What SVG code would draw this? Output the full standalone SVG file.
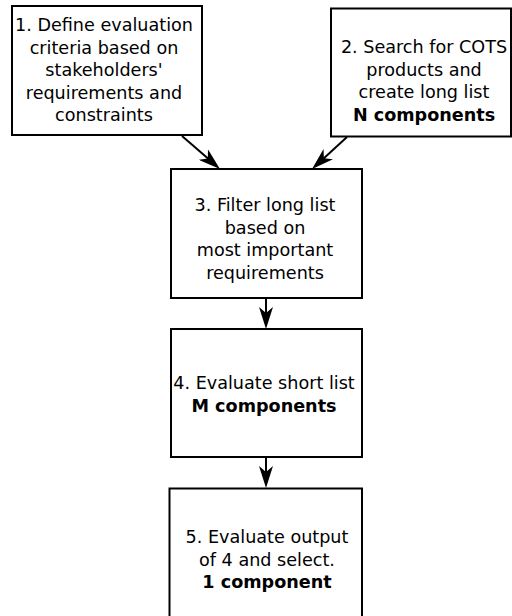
<svg xmlns="http://www.w3.org/2000/svg" width="512" height="616" viewBox="0 0 512 616">
<style>
.box{fill:#fff;stroke:#000;stroke-width:2}
.t{font-family:"DejaVu Sans",sans-serif;font-size:17.6px;fill:#000;text-anchor:middle}
.b{font-weight:bold}
.c{stroke:#000;stroke-width:2;fill:none}
</style>
<defs>
<marker id="ah" markerUnits="userSpaceOnUse" markerWidth="22" markerHeight="14" viewBox="0 0 22 14" refX="10" refY="7" orient="auto">
<path d="M0,0 L22,7 L0,14 L6,7 Z" fill="#000"/>
</marker>
</defs>
<rect width="512" height="616" fill="#fff"/>
<g id="connectors">
<line class="c" x1="182" y1="136" x2="210.9" y2="161.1" marker-end="url(#ah)"/>
<line class="c" x1="347" y1="137" x2="320.9" y2="160.9" marker-end="url(#ah)"/>
<line class="c" x1="266" y1="298" x2="266" y2="317" marker-end="url(#ah)"/>
<line class="c" x1="266" y1="457" x2="266" y2="476" marker-end="url(#ah)"/>
</g>
<g id="node1">
<rect class="box" x="12" y="6" width="190" height="129"/>
<text class="t" x="104" y="31">1. Define evaluation</text>
<text class="t" x="104" y="53.5">criteria based on</text>
<text class="t" x="104" y="76">stakeholders'</text>
<text class="t" x="104" y="98.5">requirements and</text>
<text class="t" x="104" y="121">constraints</text>
</g>
<g id="node2">
<rect class="box" x="331" y="8.5" width="180" height="128"/>
<text class="t" x="424" y="53">2. Search for COTS</text>
<text class="t" x="424" y="75.5">products and</text>
<text class="t" x="424" y="98">create long list</text>
<text class="t b" x="424" y="120.5">N components</text>
</g>
<g id="node3">
<rect class="box" x="171" y="169" width="191" height="129"/>
<text class="t" x="265" y="211">3. Filter long list</text>
<text class="t" x="265" y="233.5">based on</text>
<text class="t" x="265" y="256">most important</text>
<text class="t" x="265" y="278.5">requirements</text>
</g>
<g id="node4">
<rect class="box" x="171" y="329" width="191" height="128"/>
<text class="t" x="264" y="389">4. Evaluate short list</text>
<text class="t b" x="264" y="411.5">M components</text>
</g>
<g id="node5">
<rect class="box" x="169.5" y="488.5" width="192.5" height="132"/>
<text class="t" x="267" y="543">5. Evaluate output</text>
<text class="t" x="267" y="565.5">of 4 and select.</text>
<text class="t b" x="267" y="588">1 component</text>
</g>
</svg>
